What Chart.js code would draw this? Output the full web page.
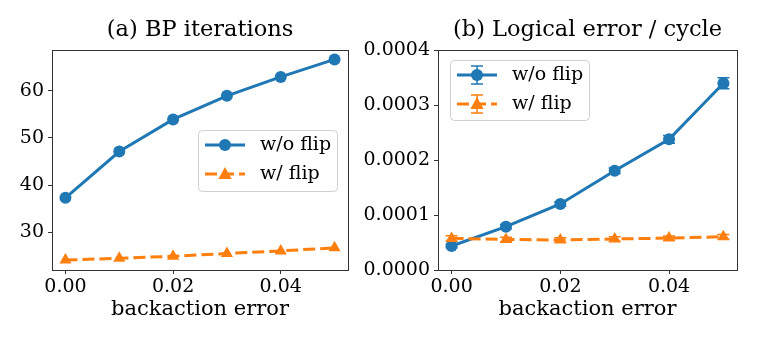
<!DOCTYPE html>
<html>
<head>
<meta charset="utf-8">
<script src="https://cdn.jsdelivr.net/npm/chart.js@4.4.1/dist/chart.umd.min.js"></script>
<style>
  html, body { margin: 0; padding: 0; background: #fff; }
  body { width: 757px; height: 341px; position: relative; overflow: hidden; }
  .panel { position: absolute; top: 0; height: 341px; }
  #left { left: 0; width: 360px; }
  #right { left: 360px; width: 397px; }
</style>
</head>
<body>
<div class="panel" id="left"><canvas id="bpChart"></canvas></div>
<div class="panel" id="right"><canvas id="errChart"></canvas></div>
<script>
// data
const backaction = [0, 0.01, 0.02, 0.03, 0.04, 0.05];
const seriesNames = ["w/o flip", "w/ flip"];
const bpNoFlip = [37.3, 47.1, 53.9, 58.9, 62.9, 66.6];
const bpFlip = [24.1, 24.5, 24.9, 25.5, 26.05, 26.7];
const logNoFlip = [0.0000436, 0.0000788, 0.00012, 0.0001806, 0.0002376, 0.0003394];
const logNoFlipErr = [0.000003, 0.000004, 0.000004, 0.000005, 0.000007, 0.00001];
const logFlip = [0.0000575, 0.0000555, 0.0000545, 0.0000565, 0.000058, 0.0000605];
const logFlipErr = [0.000005, 0.000004, 0.000004, 0.000004, 0.000004, 0.000004];
const xTicks = [0, 0.02, 0.04];
const bpTicks = [30, 40, 50, 60];
const logTicks = [0, 0.0001, 0.0002, 0.0003, 0.0004];

const BLUE = "#1f77b4";
const ORANGE = "#ff7f0e";
const FONT = "'DejaVu Serif', serif";

function pts(ys) {
  return backaction.map((x, i) => ({ x: x, y: ys[i] }));
}

// draw matplotlib-like markers
function marker(ctx, style, x, y, r, color) {
  ctx.fillStyle = color;
  ctx.beginPath();
  if (style === "triangle") {
    ctx.moveTo(x, y - r);
    ctx.lineTo(x + r * 0.95, y + r * 0.7);
    ctx.lineTo(x - r * 0.95, y + r * 0.7);
    ctx.closePath();
  } else {
    ctx.arc(x, y, r, 0, Math.PI * 2);
  }
  ctx.fill();
}

const errorBars = {
  id: "errorBars",
  beforeDatasetsDraw(chart) {
    const ctx = chart.ctx;
    const xs = chart.scales.x, ys = chart.scales.y;
    chart.data.datasets.forEach(ds => {
      if (!ds.errors) return;
      ctx.save();
      ctx.strokeStyle = ds.borderColor;
      ctx.lineWidth = 1.5;
      ds.data.forEach((p, i) => {
        const px = xs.getPixelForValue(p.x);
        const top = ys.getPixelForValue(p.y + ds.errors[i]);
        const bot = ys.getPixelForValue(p.y - ds.errors[i]);
        ctx.beginPath();
        ctx.moveTo(px, top); ctx.lineTo(px, bot);
        ctx.moveTo(px - 6, top); ctx.lineTo(px + 6, top);
        ctx.moveTo(px - 6, bot); ctx.lineTo(px + 6, bot);
        ctx.stroke();
      });
      ctx.restore();
    });
  }
};

const frameAndLegend = {
  id: "frameAndLegend",
  afterDraw(chart, args, opts) {
    const ctx = chart.ctx, a = chart.chartArea;
    ctx.save();
    ctx.strokeStyle = "#333";
    ctx.lineWidth = 1;
    ctx.strokeRect(Math.round(a.left) + 0.5, Math.round(a.top) + 0.5,
      Math.round(a.right - a.left), Math.round(a.bottom - a.top));

    // legend box
    const lx = a.left + opts.left, ly = a.top + opts.top;
    ctx.fillStyle = "rgba(255,255,255,0.85)";
    ctx.strokeStyle = "#d0d0d0";
    ctx.beginPath();
    ctx.roundRect(lx + 0.5, ly + 0.5, opts.width, opts.height, 4);
    ctx.fill();
    ctx.stroke();

    chart.data.datasets.forEach((ds, i) => {
      const cy = ly + 15 + i * 29;
      const mx = lx + 27;
      ctx.strokeStyle = ds.borderColor;
      ctx.lineWidth = ds.borderWidth;
      ctx.setLineDash(ds.borderDash || []);
      ctx.beginPath();
      ctx.moveTo(lx + 7, cy); ctx.lineTo(lx + 47, cy);
      ctx.stroke();
      ctx.setLineDash([]);
      if (ds.errors) {
        ctx.lineWidth = 1.5;
        ctx.beginPath();
        ctx.moveTo(mx, cy - 9); ctx.lineTo(mx, cy + 9);
        ctx.moveTo(mx - 6, cy - 9); ctx.lineTo(mx + 6, cy - 9);
        ctx.moveTo(mx - 6, cy + 9); ctx.lineTo(mx + 6, cy + 9);
        ctx.stroke();
      }
      marker(ctx, ds.pointStyle, mx, cy, ds.pointRadius, ds.borderColor);
      ctx.fillStyle = "#000";
      ctx.font = "19px " + FONT;
      ctx.textBaseline = "middle";
      ctx.fillText(ds.label, lx + 62, cy);
    });
    ctx.restore();
  }
};

function makeChart(id, cfg) {
  const tickFont = { family: FONT, size: 19 };
  return new Chart(document.getElementById(id), {
    type: "line",
    data: {
      datasets: [
        {
          label: seriesNames[0], data: pts(cfg.blue), errors: cfg.blueErr,
          borderColor: BLUE, backgroundColor: BLUE, borderWidth: 3,
          pointStyle: "circle", pointRadius: 6, pointBorderWidth: 0, order: 2
        },
        {
          label: seriesNames[1], data: pts(cfg.orange), errors: cfg.orangeErr,
          borderColor: ORANGE, backgroundColor: ORANGE, borderWidth: 3,
          borderDash: [12, 5], pointStyle: "triangle", pointRadius: 7,
          pointBorderWidth: 0, order: 1
        }
      ]
    },
    options: {
      responsive: true,
      maintainAspectRatio: false,
      animation: false,
      layout: { padding: { left: 0, right: cfg.padRight, top: 0, bottom: 0 } },
      plugins: {
        legend: { display: false },
        tooltip: { enabled: false },
        title: {
          display: true, text: cfg.title, fullSize: false, color: "#000",
          font: { family: FONT, size: 22.5, weight: "normal" },
          padding: { top: 17, bottom: 6 }
        },
        frameAndLegend: cfg.legend
      },
      scales: {
        x: {
          type: "linear", min: -0.0025, max: 0.0525,
          afterBuildTicks: s => { s.ticks = xTicks.map(v => ({ value: v })); },
          afterFit: s => { s.height = 71; },
          ticks: { callback: v => v.toFixed(2), color: "#000", font: tickFont, padding: 2, maxRotation: 0, autoSkip: false },
          grid: { drawOnChartArea: false, drawTicks: true, tickLength: 4, color: "#333" },
          border: { display: false },
          title: { display: true, text: "backaction error", color: "#000", font: { family: FONT, size: 21 }, padding: { top: 0, bottom: 19 } }
        },
        y: {
          type: "linear", min: cfg.yMin, max: cfg.yMax,
          afterBuildTicks: s => { s.ticks = cfg.yTicks.map(v => ({ value: v })); },
          afterFit: s => { s.width = cfg.yWidth; },
          ticks: { callback: cfg.yFmt, color: "#000", font: tickFont, padding: 4, autoSkip: false },
          grid: { drawOnChartArea: false, drawTicks: true, tickLength: 4, color: "#333" },
          border: { display: false }
        }
      }
    },
    plugins: [errorBars, frameAndLegend]
  });
}

makeChart("bpChart", {
  title: "(a) BP iterations",
  blue: bpNoFlip, orange: bpFlip, blueErr: null, orangeErr: null,
  yMin: 22.0, yMax: 68.6, yTicks: bpTicks, yFmt: v => String(v),
  yWidth: 52, padRight: 12,
  legend: { left: 146, top: 80, width: 139, height: 61 }
});

makeChart("errChart", {
  title: "(b) Logical error / cycle",
  blue: logNoFlip, orange: logFlip, blueErr: logNoFlipErr, orangeErr: logFlipErr,
  yMin: 0, yMax: 0.0004, yTicks: logTicks, yFmt: v => v.toFixed(4),
  yWidth: 78, padRight: 20,
  legend: { left: 12, top: 10, width: 139, height: 60 }
});
</script>
</body>
</html>
